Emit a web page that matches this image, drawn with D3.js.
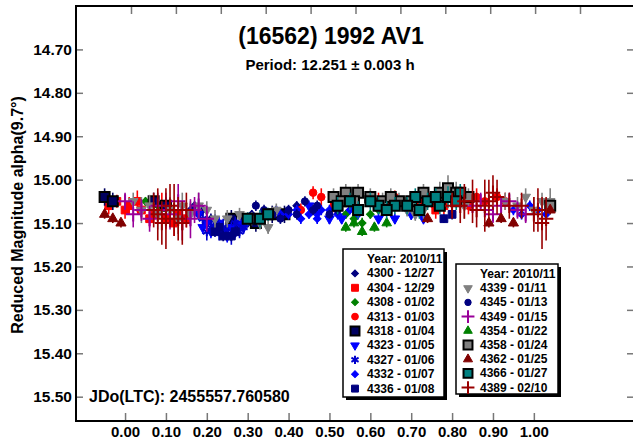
<!DOCTYPE html>
<html>
<head>
<meta charset="utf-8">
<script src="https://cdn.jsdelivr.net/npm/d3@7"></script>
<style>
  body { margin: 0; background: #fff; }
  svg { display: block; font-family: "Liberation Sans", Arial, sans-serif; font-weight: bold; }
</style>
</head>
<body>
<svg width="633" height="440"></svg>
<script>

// session ids and dates (Year 2010/11)
let sessionIds   = ['4300','4304','4308','4313','4318','4323','4327','4332','4336',
                    '4339','4345','4349','4354','4358','4362','4366','4389'];
let sessionDates = ['12/27','12/29','01/02','01/03','01/04','01/05','01/06','01/07','01/08',
                    '01/11','01/13','01/15','01/22','01/24','01/25','01/27','02/10'];

// [phase, reduced magnitude, error]
let s4300 = [[0.17,15.06,0.01],[0.19,15.07,0.01],[0.21,15.09,0.012],[0.23,15.10,0.01],[0.25,15.11,0.012],
             [0.27,15.10,0.01],[0.29,15.09,0.01],[0.31,15.08,0.01],[0.40,15.07,0.01],[0.42,15.06,0.01],
             [0.16,15.07,0.015],[0.18,15.08,0.012],[0.20,15.10,0.012],[0.22,15.11,0.015],[0.24,15.12,0.012],
             [0.26,15.11,0.015],[0.28,15.11,0.012],[0.30,15.10,0.01]];
let s4304 = [[-0.02,15.05,0.015],[0.01,15.06,0.02],[0.04,15.07,0.02],[0.07,15.08,0.02],[0.10,15.09,0.025],
             [0.13,15.08,0.02],[0.72,15.06,0.015],[0.75,15.05,0.015],[0.78,15.06,0.02],
             [-0.04,15.06,0.02],[0.00,15.07,0.02],[0.03,15.05,0.025],[0.06,15.09,0.02],[0.09,15.06,0.03],
             [0.12,15.10,0.03],[0.15,15.09,0.02],[0.74,15.04,0.02],[0.76,15.07,0.02]];
let s4308 = [[0.05,15.05,0.01],[0.08,15.06,0.01],[0.54,15.08,0.01],[0.56,15.09,0.01],[0.58,15.10,0.012],
             [0.60,15.08,0.01],[0.62,15.07,0.01]];
let s4313 = [[0.43,15.07,0.015],[0.46,15.03,0.015],[0.48,15.04,0.02],[0.51,15.06,0.015],[0.53,15.05,0.02],
             [0.66,15.04,0.015],[0.69,15.06,0.02],[0.72,15.05,0.015],[0.88,15.05,0.02],[0.91,15.04,0.02],
             [0.84,15.06,0.02],[0.86,15.04,0.02],[0.93,15.05,0.02],[0.62,15.05,0.02],[0.64,15.06,0.02]];
let s4318 = [[-0.05,15.04,0.02],[-0.03,15.05,0.02],[0.07,15.05,0.02],[0.10,15.06,0.02],[0.26,15.09,0.02],
             [0.32,15.10,0.02],[0.36,15.08,0.02],[0.39,15.08,0.02]];
let s4323 = [[0.18,15.08,0.012],[0.20,15.10,0.015],[0.22,15.11,0.015],[0.24,15.12,0.015],[0.26,15.11,0.012],
             [0.28,15.10,0.015],[0.62,15.09,0.012],[0.66,15.09,0.012],[0.70,15.08,0.012],[0.73,15.09,0.01],
             [0.19,15.11,0.015],[0.21,15.12,0.015],[0.23,15.10,0.015],[0.25,15.13,0.015],[0.27,15.12,0.012],
             [0.29,15.11,0.012],[0.45,15.06,0.012],[0.47,15.08,0.012],[0.50,15.09,0.012],[0.53,15.09,0.012]];
let s4327 = [[0.19,15.09,0.015],[0.21,15.11,0.02],[0.23,15.12,0.02],[0.25,15.12,0.015],[0.27,15.10,0.015],
             [0.29,15.11,0.015],[0.20,15.12,0.02],[0.22,15.10,0.02],[0.24,15.11,0.02],[0.26,15.13,0.02],
             [0.28,15.12,0.015]];
let s4332 = [[0.37,15.07,0.01],[0.40,15.08,0.012],[0.43,15.09,0.012],[0.45,15.08,0.01],[0.48,15.07,0.012],
             [0.52,15.08,0.012],[0.55,15.07,0.01],[0.95,15.07,0.012],[0.99,15.06,0.012],[1.03,15.08,0.012],
             [0.38,15.08,0.012],[0.42,15.07,0.012],[0.47,15.09,0.012],[0.50,15.07,0.012],[0.57,15.08,0.012],
             [0.97,15.08,0.012],[1.01,15.07,0.012]];
let s4336 = [[0.22,15.12,0.012],[0.24,15.13,0.012],[0.27,15.12,0.012],[0.78,15.09,0.01],[0.80,15.08,0.012],
             [0.23,15.11,0.012],[0.26,15.13,0.012]];
let s4339 = [[0.02,15.05,0.02],[0.06,15.06,0.025],[0.11,15.07,0.03],[0.14,15.06,0.03],[0.20,15.07,0.02],
             [0.25,15.09,0.02],[0.28,15.08,0.015],[0.31,15.09,0.015],[0.33,15.10,0.015],[0.35,15.11,0.015],
             [0.69,15.07,0.015],[0.71,15.08,0.015],[0.98,15.04,0.02],[1.02,15.05,0.02],
             [0.04,15.07,0.03],[0.08,15.08,0.035],[0.13,15.09,0.035],[0.16,15.08,0.03],[0.18,15.06,0.03],
             [0.22,15.09,0.02],[0.37,15.07,0.015],[0.73,15.07,0.02],[0.80,15.04,0.03],[0.83,15.06,0.03],
             [0.93,15.05,0.02],[0.96,15.06,0.02],[1.00,15.07,0.03],[1.04,15.05,0.03]];
let s4345 = [[0.32,15.06,0.012],[0.36,15.08,0.012],[0.40,15.07,0.012],[0.44,15.05,0.012],[0.47,15.06,0.012],
             [0.50,15.08,0.01],[0.52,15.07,0.012],[0.34,15.07,0.012],[0.38,15.09,0.012],[0.42,15.08,0.012],
             [0.46,15.07,0.012]];
let s4349 = [[0.00,15.05,0.02],[0.04,15.07,0.025],[0.08,15.06,0.03],[0.11,15.08,0.035],[0.14,15.10,0.04],
             [0.17,15.07,0.03],[0.20,15.09,0.03],[0.85,15.06,0.015],[0.88,15.07,0.015],[0.92,15.06,0.02],
             [0.96,15.07,0.02],[0.02,15.08,0.03],[0.06,15.09,0.03],[0.10,15.07,0.04],[0.13,15.05,0.04],
             [0.16,15.09,0.045],[0.18,15.06,0.03],[0.87,15.05,0.02],[0.90,15.08,0.02],[0.94,15.05,0.02],
             [0.98,15.08,0.02]];
let s4354 = [[0.54,15.11,0.01],[0.56,15.10,0.01],[0.58,15.12,0.01],[0.61,15.11,0.01],[0.64,15.10,0.01]];
let s4358 = [[0.51,15.04,0.02],[0.54,15.03,0.02],[0.57,15.03,0.02],[0.60,15.04,0.02],[0.63,15.05,0.02],
             [0.67,15.05,0.02],[0.70,15.05,0.02],[0.77,15.03,0.025],[0.79,15.02,0.03],[0.81,15.03,0.025],
             [1.04,15.06,0.02],[0.53,15.05,0.02],[0.56,15.05,0.02],[0.65,15.04,0.02],[0.73,15.03,0.02],
             [0.84,15.04,0.02]];
let s4362 = [[-0.05,15.08,0.01],[-0.03,15.09,0.01],[-0.01,15.10,0.01],[0.74,15.09,0.01],[0.89,15.10,0.01],
             [0.92,15.09,0.01],[0.95,15.10,0.01],[1.04,15.07,0.01]];
let s4366 = [[0.30,15.09,0.015],[0.33,15.09,0.02],[0.52,15.06,0.02],[0.55,15.05,0.02],[0.62,15.06,0.02],
             [0.66,15.06,0.02],[0.71,15.04,0.02],[0.74,15.05,0.02],[0.77,15.06,0.02],[0.79,15.04,0.025],
             [0.82,15.03,0.02],[0.35,15.08,0.015],[0.57,15.07,0.02],[0.60,15.05,0.02],[0.64,15.07,0.02],
             [0.69,15.06,0.02],[0.72,15.07,0.02],[0.76,15.04,0.02],[0.81,15.05,0.02]];
let s4389 = [[0.07,15.07,0.04],[0.09,15.10,0.05],[0.11,15.06,0.05],[0.13,15.09,0.05],[0.15,15.07,0.04],
             [0.80,15.06,0.03],[0.83,15.05,0.04],[0.86,15.07,0.04],[0.89,15.05,0.05],[0.91,15.04,0.04],
             [0.94,15.06,0.03],[0.97,15.06,0.03],[1.00,15.08,0.04],[1.03,15.09,0.05],
             [0.08,15.08,0.06],[0.10,15.09,0.07],[0.12,15.07,0.06],[0.14,15.10,0.05],[0.82,15.06,0.04],
             [0.85,15.05,0.05],[0.88,15.06,0.06],[0.90,15.03,0.04],[1.01,15.07,0.05],[1.02,15.10,0.06]];

let sessionData = [s4300,s4304,s4308,s4313,s4318,s4323,s4327,s4332,s4336,
                   s4339,s4345,s4349,s4354,s4358,s4362,s4366,s4389];

let xTickValues = [0,0.1,0.2,0.3,0.4,0.5,0.6,0.7,0.8,0.9,1.0];
let yTickValues = [14.7,14.8,14.9,15.0,15.1,15.2,15.3,15.4,15.5];

// marker styles, same order as sessionIds (diamonds are squares turned 45 degrees)
let styles = [
  {type: d3.symbolSquare,   size: 30, fill: '#000080', stroke: '#000080', rot: 45},
  {type: d3.symbolSquare,   size: 60, fill: '#ff0000', stroke: '#ff0000'},
  {type: d3.symbolSquare,   size: 30, fill: '#008000', stroke: '#008000', rot: 45},
  {type: d3.symbolCircle,   size: 45, fill: '#ff0000', stroke: '#ff0000'},
  {type: d3.symbolSquare,   size: 100, fill: '#000060', stroke: '#000000', sw: 2},
  {type: d3.symbolTriangle, size: 40, fill: '#0000ff', stroke: '#0000ff', rot: 180},
  {type: d3.symbolAsterisk, size: 60, fill: 'none',    stroke: '#0000cd', sw: 2},
  {type: d3.symbolSquare,   size: 30, fill: '#0000ff', stroke: '#0000ff', rot: 45},
  {type: d3.symbolSquare,   size: 60, fill: '#000080', stroke: '#000080'},
  {type: d3.symbolTriangle, size: 40, fill: '#808080', stroke: '#808080', rot: 180},
  {type: d3.symbolCircle,   size: 40, fill: '#000080', stroke: '#000080'},
  {type: d3.symbolPlus,     size: 70, fill: 'none',    stroke: '#990099', sw: 2},
  {type: d3.symbolTriangle, size: 40, fill: '#008000', stroke: '#008000'},
  {type: d3.symbolSquare,   size: 100, fill: '#808080', stroke: '#000000', sw: 2},
  {type: d3.symbolTriangle, size: 45, fill: '#800000', stroke: '#800000'},
  {type: d3.symbolSquare,   size: 100, fill: '#008080', stroke: '#000000', sw: 2},
  {type: d3.symbolPlus,     size: 70, fill: 'none',    stroke: '#990000', sw: 2}
];

let svg = d3.select('svg');

let xScale = d3.scaleLinear()
               .domain([-0.12, 1.245])
               .range([76, 634]);

let yScale = d3.scaleLinear()
               .domain([14.60, 15.556])
               .range([6, 421]);

// top frame ticks (unlabelled)
let topScale = d3.scaleLinear()
                 .domain([0, 10])
                 .range([131, 580]);

let tickColor = '#777';

let xAxis = d3.axisBottom(xScale)
              .tickValues(xTickValues)
              .tickSizeInner(-8)
              .tickSizeOuter(0)
              .tickPadding(5)
              .tickFormat(d3.format('.2f'));

svg.append('g')
   .attr('id', 'xAxisG')
   .attr('transform', 'translate(0,421)')
   .call(xAxis);

let yAxis = d3.axisLeft(yScale)
              .tickValues(yTickValues)
              .tickSizeInner(-7)
              .tickSizeOuter(0)
              .tickPadding(4)
              .tickFormat(d3.format('.2f'));

svg.append('g')
   .attr('id', 'yAxisG')
   .attr('transform', 'translate(76,0)')
   .call(yAxis);

let yAxisR = d3.axisRight(yScale)
               .tickValues(yTickValues)
               .tickSizeInner(-7)
               .tickSizeOuter(0)
               .tickFormat('');

svg.append('g')
   .attr('transform', 'translate(634,0)')
   .call(yAxisR);

let topAxis = d3.axisTop(topScale)
                .tickValues(d3.range(0, 11))
                .tickSizeInner(-8)
                .tickSizeOuter(0)
                .tickFormat('');

svg.append('g')
   .attr('transform', 'translate(0,6)')
   .call(topAxis);

svg.selectAll('.domain').remove();
svg.selectAll('.tick line').attr('stroke', tickColor).attr('stroke-width', 1.5);
svg.selectAll('.tick text')
   .attr('fill', '#000')
   .style('font-family', '"Liberation Sans", Arial, sans-serif')
   .style('font-weight', 'bold');
svg.select('#xAxisG').selectAll('text').style('font-size', '15px');
svg.select('#yAxisG').selectAll('text').style('font-size', '15.5px');

// frame
svg.append('rect')
   .attr('x', 76)
   .attr('y', 6)
   .attr('width', 634 - 76)
   .attr('height', 421 - 6)
   .attr('fill', 'none')
   .attr('stroke', '#000')
   .attr('stroke-width', 2);

// data: error bars + markers per session
let plotG = svg.append('g');

sessionData.forEach(function(points, i) {
  let st = styles[i];
  let g = plotG.append('g').attr('id', 'session' + sessionIds[i]);

  g.selectAll('line')
   .data(points)
   .enter()
   .append('line')
   .attr('x1', function(d) { return xScale(d[0]); })
   .attr('x2', function(d) { return xScale(d[0]); })
   .attr('y1', function(d) { return yScale(d[1] - d[2]); })
   .attr('y2', function(d) { return yScale(d[1] + d[2]); })
   .attr('stroke', st.stroke == '#000000' ? st.fill : st.stroke)
   .attr('stroke-width', 1.6);

  g.selectAll('path')
   .data(points)
   .enter()
   .append('path')
   .attr('d', d3.symbol().type(st.type).size(st.size))
   .attr('transform', function(d) {
     return 'translate(' + xScale(d[0]) + ',' + yScale(d[1]) + ')' + (st.rot ? ' rotate(' + st.rot + ')' : '');
   })
   .attr('fill', st.fill)
   .attr('stroke', st.stroke)
   .attr('stroke-width', st.sw || 1);
});

// titles
svg.append('text')
   .attr('x', 331)
   .attr('y', 44)
   .attr('text-anchor', 'middle')
   .style('font-size', '23px')
   .text('(16562) 1992 AV1');

svg.append('text')
   .attr('x', 330)
   .attr('y', 70)
   .attr('text-anchor', 'middle')
   .style('font-size', '15px')
   .text('Period: 12.251 \u00b1 0.003 h');

svg.append('text')
   .attr('transform', 'translate(23,215) rotate(-90)')
   .attr('text-anchor', 'middle')
   .style('font-size', '16px')
   .text('Reduced Magnitude alpha(9.7\u00b0)');

svg.append('text')
   .attr('x', 89)
   .attr('y', 402)
   .style('font-size', '16px')
   .text('JDo(LTC): 2455557.760580');

// legends
drawLegend(0, 9, 343, 249, 101, 148, 14.4);
drawLegend(9, 17, 456, 264, 102, 130, 14.2);

function drawLegend(from, to, lx, ly, lw, lh, step) {
  let lg = svg.append('g');

  lg.append('rect')
    .attr('x', lx + 3).attr('y', ly + 3)
    .attr('width', lw).attr('height', lh)
    .attr('fill', '#000');

  lg.append('rect')
    .attr('x', lx).attr('y', ly)
    .attr('width', lw).attr('height', lh)
    .attr('fill', '#fff')
    .attr('stroke', '#000')
    .attr('stroke-width', 1.5);

  lg.append('text')
    .attr('x', lx + 24)
    .attr('y', ly + 14)
    .style('font-size', '12px')
    .text('Year: 2010/11');

  for (let i = from; i < to; i++) {
    let st = styles[i];
    let cy = ly + 14 + (i - from + 1) * step - 4;

    lg.append('path')
      .attr('d', d3.symbol().type(st.type).size(st.size * 0.8))
      .attr('transform', 'translate(' + (lx + 12) + ',' + cy + ')' + (st.rot ? ' rotate(' + st.rot + ')' : ''))
      .attr('fill', st.fill)
      .attr('stroke', st.stroke)
      .attr('stroke-width', st.sw || 1);

    lg.append('text')
      .attr('x', lx + 24)
      .attr('y', cy + 4)
      .style('font-size', '12px')
      .text(sessionIds[i] + ' - ' + sessionDates[i]);
  }
}

</script>
</body>
</html>
